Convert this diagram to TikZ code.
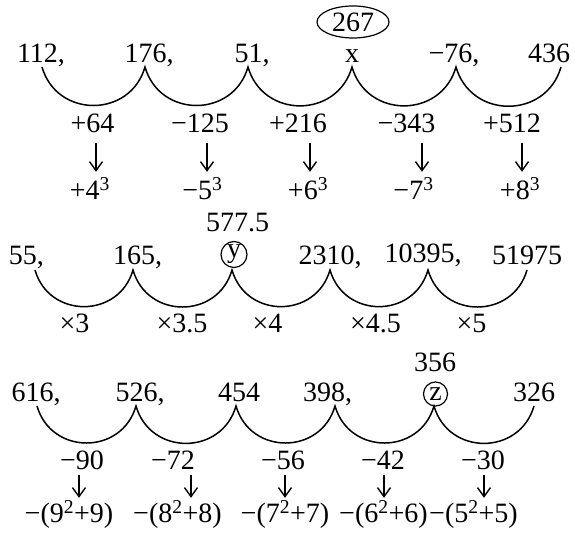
\documentclass[tikz,border=0pt]{standalone}
\usepackage{fontspec}
\setmainfont{Liberation Serif}
\usetikzlibrary{arrows.meta, shapes.geometric}

\begin{document}
\begin{tikzpicture}[
  x=1pt, y=1pt,
  num/.style={anchor=base, inner sep=0pt, text height=19pt, text depth=0pt, font=\fontsize{28}{33}\selectfont},
  hop/.style={out=-74, in=-106, looseness=1.33},
  arcs/.style={line width=1.5pt},
  down/.style={line width=1.4pt, -{Straight Barb[length=9pt, width=13pt, line width=1.4pt]}},
  oval/.style={draw, ellipse, line width=1.2pt, minimum width=72pt, minimum height=32pt, inner sep=0pt, font=\fontsize{28}{33}\selectfont},
  ring/.style={draw, circle, line width=1.2pt, inner sep=0pt, font=\fontsize{28}{33}\selectfont}
]
  \useasboundingbox (0,0) rectangle (575,537);

  % series 1: cubes
  \node[num] (a1) at (41,474.5) {112,};
  \node[num] (a2) at (149,474.5) {176,};
  \node[num] (a3) at (252,474.5) {51,};
  \node[num] (a4) at (352,474) {x};
  \node[num] (a5) at (454,474.5) {−76,};
  \node[num] (a6) at (549,474.5) {436};
  \node[oval] (ax) at (353,515) {267};
  \coordinate (ka1) at (42,470);
  \coordinate (ka2) at (145,470);
  \coordinate (ka3) at (248,470);
  \coordinate (ka4) at (352,470);
  \coordinate (ka5) at (456,470);
  \coordinate (ka6) at (561,470);
  \draw[arcs] (ka1) to[hop] (ka2) to[hop] (ka3) to[hop] (ka4) to[hop] (ka5) to[hop] (ka6);
  \node[num] (sa1) at (92.5,404) {+64};
  \node[num] (sa2) at (200,404) {−125};
  \node[num] (sa3) at (298,404) {+216};
  \node[num] (sa4) at (406.5,404) {−343};
  \node[num] (sa5) at (512,404) {+512};
  \node[num] (ra1) at (90,337) {+4\textsuperscript{3}};
  \node[num] (ra2) at (202.5,337) {−5\textsuperscript{3}};
  \node[num] (ra3) at (308,337) {+6\textsuperscript{3}};
  \node[num] (ra4) at (413.5,337) {−7\textsuperscript{3}};
  \node[num] (ra5) at (520,337) {+8\textsuperscript{3}};
  \foreach \i/\dx in {1/3.5, 2/7, 3/12, 4/15.5, 5/10}
    \draw[down, shorten <=10pt, shorten >=9pt] ([xshift=\dx pt]sa\i.south) -- ([xshift=\dx pt]sa\i.south |- ra\i.north);

  % series 2: multiplication
  \node[num] (b1) at (26.5,272) {55,};
  \node[num] (b2) at (137.5,272) {165,};
  \node[ring, minimum size=26pt] (b3) at (234,282.5) {y};
  \node[num] (b4) at (330,272) {2310,};
  \node[num] (b5) at (423,274) {10395,};
  \node[num] (b6) at (527,272) {51975};
  \node[num] (by) at (237.5,305) {577.5};
  \coordinate (kb1) at (35,267);
  \coordinate (kb2) at (133,267);
  \coordinate (kb3) at (232,267);
  \coordinate (kb4) at (330,267);
  \coordinate (kb5) at (428,267);
  \coordinate (kb6) at (527,267);
  \draw[arcs] (kb1) to[hop] (kb2) to[hop] (kb3) to[hop] (kb4) to[hop] (kb5) to[hop] (kb6);
  \node[num] (sb1) at (74.5,204) {×3};
  \node[num] (sb2) at (182,204) {×3.5};
  \node[num] (sb3) at (267.5,204) {×4};
  \node[num] (sb4) at (375.5,204) {×4.5};
  \node[num] (sb5) at (471.5,204) {×5};

  % series 3: n^2+n
  \node[num] (c1) at (36,135) {616,};
  \node[num] (c2) at (140,135) {526,};
  \node[num] (c3) at (239,135) {454};
  \node[num] (c4) at (327.5,135) {398,};
  \node[ring, minimum size=24pt] (c5) at (435.5,143) {z};
  \node[num] (c6) at (534,135) {326};
  \node[num] (cz) at (435,165) {356};
  \coordinate (kc1) at (37,131);
  \coordinate (kc2) at (136,131);
  \coordinate (kc3) at (236,131);
  \coordinate (kc4) at (335,131);
  \coordinate (kc5) at (434,131);
  \coordinate (kc6) at (534,131);
  \draw[arcs] (kc1) to[hop] (kc2) to[hop] (kc3) to[hop] (kc4) to[hop] (kc5) to[hop] (kc6);
  \node[num] (sc1) at (82,67) {−90};
  \node[num] (sc2) at (173,67) {−72};
  \node[num] (sc3) at (283,67) {−56};
  \node[num] (sc4) at (383,67) {−42};
  \node[num] (sc5) at (483,67) {−30};
  \node[num] (rc1) at (69,14) {−(9\textsuperscript{2}+9)};
  \node[num] (rc2) at (177.5,14) {−(8\textsuperscript{2}+8)};
  \node[num] (rc3) at (285,14) {−(7\textsuperscript{2}+7)};
  \node[num] (rc4) at (383.5,14) {−(6\textsuperscript{2}+6)};
  \node[num] (rc5) at (473.5,14) {−(5\textsuperscript{2}+5)};
  \foreach \i/\dx in {1/-3, 2/18, 3/2, 4/1, 5/1}
    \draw[down, shorten <=5pt, shorten >=6pt] ([xshift=\dx pt]sc\i.south) -- ([xshift=\dx pt]sc\i.south |- rc\i.north);
\end{tikzpicture}
\end{document}
